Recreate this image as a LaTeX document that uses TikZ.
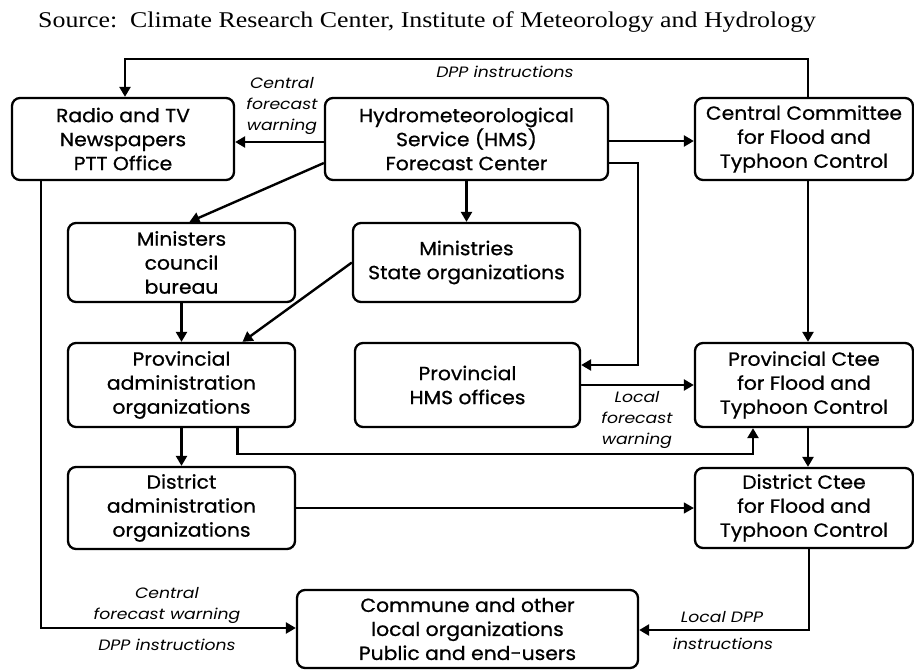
\documentclass[tikz,border=0pt]{standalone}
\usepackage{fontspec}
\setmainfont{Poppins}
\newfontfamily\boxfont{Poppins}[FakeBold=0.8, FakeStretch=1.07]
\newfontfamily\lblfont{Poppins}[FakeStretch=1.15]
\newfontfamily\srcfont{Liberation Serif}[FakeStretch=1.15]
\usetikzlibrary{arrows.meta}
\tikzset{
  box/.style={draw, line width=2.3pt, rounded corners=8pt, inner sep=0pt, align=center,
    font=\boxfont\fontsize{19}{24}\selectfont},
  conn/.style={line width=2.4pt},
  arr/.style={conn, -{Triangle[length=10pt,width=11pt]}},
  thinarr/.style={line width=1.2pt, -{Triangle[length=10pt,width=11pt]}},
  lbl/.style={inner sep=0pt, align=center, font=\lblfont\itshape\fontsize{15}{21}\selectfont},
}
\begin{document}
\begin{tikzpicture}[x=1pt,y=-1pt]
\fill[white] (0,0) rectangle (914,670);
\useasboundingbox (0,0) rectangle (914,670);

\node[anchor=west, inner sep=0pt, font=\srcfont\fontsize{22.5}{26}\selectfont] (src) at (38,22)
  {Source:\ \ Climate Research Center, Institute of Meteorology and Hydrology};

\node[box, minimum width=222pt, minimum height=82pt] (radio) at (123,139) {Radio and TV\\Newspapers\\PTT Office};
\node[box, minimum width=283pt, minimum height=82pt] (hms) at (466.5,139) {Hydrometeorological\\Service (HMS)\\Forecast Center};
\node[box, minimum width=218pt, minimum height=82pt] (ccfc) at (804,139) {Central Committee\\for Flood and\\Typhoon Control};

\node[box, minimum width=227pt, minimum height=79pt] (mincb) at (181.5,262.5) {Ministers\\council\\bureau};
\node[box, minimum width=227pt, minimum height=79pt] (minis) at (466.5,262.5) {Ministries\\State organizations};

\node[box, minimum width=227pt, minimum height=84pt] (padm) at (181.5,385) {Provincial\\administration\\organizations};
\node[box, minimum width=225pt, minimum height=84pt] (phms) at (467.5,385) {Provincial\\HMS offices};
\node[box, minimum width=218pt, minimum height=84pt] (pctee) at (804,385) {Provincial Ctee\\for Flood and\\Typhoon Control};

\node[box, minimum width=227pt, minimum height=82pt] (dadm) at (181.5,508) {District\\administration\\organizations};
\node[box, minimum width=218pt, minimum height=80pt] (dctee) at (804,508) {District Ctee\\for Flood and\\Typhoon Control};

\node[box, minimum width=341pt, minimum height=78pt] (commune) at (467.5,629) {Commune and other\\local organizations\\Public and end-users};

% connectors
\draw[arr] ([xshift=4pt]ccfc.north) -- ++(0,-38) -| ([xshift=2pt]radio.north);
\draw[arr] ([yshift=-3pt]hms.west) -- ([yshift=-3pt]radio.east);
\draw[arr] ([yshift=-2pt]hms.east) -- ([yshift=-2pt]ccfc.west);
\draw[arr] ([yshift=-24pt]hms.east) -- ++(29,0) |- ([yshift=20pt]phms.east);
\draw[arr] ([yshift=-24pt]hms.west) -- ([xshift=8pt]mincb.north);
\draw[arr] (hms.south) -- (minis.north);
\draw[arr] (mincb.south) -- (padm.north);
\draw[arr] (minis.west) -- ([xshift=61pt]padm.north);
\draw[arr] ([xshift=4pt]ccfc.south) -- ([xshift=4pt]pctee.north);
\draw[arr] (phms.east) -- (pctee.west);
\draw[arr] ([xshift=56pt]padm.south) -- ++(0,26) -| ([xshift=-51pt]pctee.south);
\draw[arr] (padm.south) -- (dadm.north);
\draw[arr] ([xshift=4pt]pctee.south) -- ([xshift=4pt]dctee.north);
\draw[thinarr] (dadm.east) -- (dctee.west);
\draw[arr] ([xshift=-82pt]radio.south) |- ([yshift=1pt]commune.west);
\draw[arr] ([xshift=5pt]dctee.south) |- ([yshift=-1pt]commune.east);

% labels
\node[lbl] (l1) at (505,72) {DPP instructions};
\node[lbl] (l2) at (282,106) {Central\\forecast\\warning};
\node[lbl] (l3) at (637,420) {Local\\forecast\\warning};
\node[lbl] (l4) at (167,605) {Central\\forecast warning};
\node[lbl] (l5) at (167,645) {DPP instructions};
\node[lbl] (l6) at (722,617) {Local DPP};
\node[lbl] (l7) at (723,644) {instructions};
\end{tikzpicture}
\end{document}
